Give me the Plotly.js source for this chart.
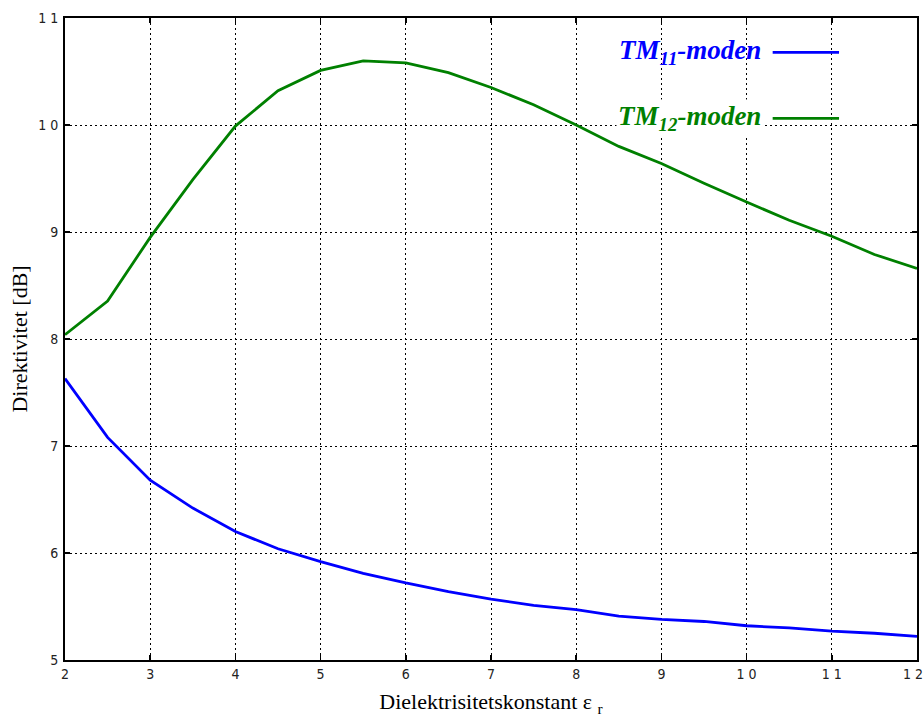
<!DOCTYPE html>
<html>
<head>
<meta charset="utf-8">
<script src="https://cdn.plot.ly/plotly-3.0.1.min.js"></script>
<style>html,body{margin:0;padding:0;background:#fff;}#chart{width:924px;height:717px;}</style>
</head>
<body>
<div id="chart"></div>
<script>
const epsR = [2, 2.5, 3, 3.5, 4, 4.5, 5, 5.5, 6, 6.5, 7, 7.5, 8, 8.5, 9, 9.5, 10, 10.5, 11, 11.5, 12];
const tm11 = [7.63, 7.08, 6.68, 6.42, 6.20, 6.04, 5.92, 5.81, 5.72, 5.64, 5.57, 5.51, 5.47, 5.41, 5.38, 5.36, 5.32, 5.30, 5.27, 5.25, 5.22];
const tm12 = [8.04, 8.355, 8.95, 9.49, 9.99, 10.32, 10.51, 10.60, 10.58, 10.49, 10.35, 10.19, 10.00, 9.80, 9.64, 9.455, 9.28, 9.11, 8.96, 8.79, 8.66];
const xTickVals = [2, 3, 4, 5, 6, 7, 8, 9, 10, 11, 12];
const xTickText = ['2', '3', '4', '5', '6', '7', '8', '9', '1 0', '1 1', '1 2'];
const yTickVals = [5, 6, 7, 8, 9, 10, 11];
const yTickText = ['5', '6', '7', '8', '9', '1 0', '1 1'];
const seriesNames = ['TM<sub>11</sub>-moden', 'TM<sub>12</sub>-moden'];
const seriesColors = ['#0000ff', '#008000'];

const traces = [
  {x: epsR, y: tm11, type: 'scatter', mode: 'lines', line: {color: seriesColors[0], width: 2.8}, name: 'TM11', showlegend: false},
  {x: epsR, y: tm12, type: 'scatter', mode: 'lines', line: {color: seriesColors[1], width: 2.8}, name: 'TM12', showlegend: false}
];

const tickFont = {family: '"Liberation Sans Narrow", "DejaVu Sans Condensed", Arial, sans-serif', size: 14, color: '#222'};
const axisCommon = {
  showline: true, linecolor: '#000', linewidth: 2, mirror: 'ticks',
  ticks: 'inside', ticklen: 5, tickcolor: '#000', tickwidth: 1.5,
  showgrid: true, gridcolor: '#000', gridwidth: 1, griddash: '2px,3px',
  zeroline: false, tickfont: tickFont, tickmode: 'array', automargin: false,
  ticklabeloverflow: 'allow'
};

const layout = {
  width: 924, height: 717,
  margin: {l: 65, r: 7, t: 18, b: 57},
  paper_bgcolor: '#fff', plot_bgcolor: '#fff',
  showlegend: false,
  xaxis: Object.assign({}, axisCommon, {
    range: [2, 12], tickvals: xTickVals, ticktext: xTickText, ticklabelstandoff: 0,
    title: {text: 'Dielektrisitetskonstant ε <sub>r</sub>', standoff: 15,
      font: {family: '"Liberation Serif", "Times New Roman", serif', size: 22, color: '#000'}}
  }),
  yaxis: Object.assign({}, axisCommon, {
    range: [5, 11], tickvals: yTickVals, ticktext: yTickText, ticklabelstandoff: 2,
    title: {text: 'Direktivitet [dB]', standoff: 4,
      font: {family: '"Liberation Serif", "Times New Roman", serif', size: 22, color: '#000'}}
  }),
  annotations: [
    {xref: 'paper', yref: 'paper', x: 0.819, y: 0.9466, xanchor: 'right', yanchor: 'middle', showarrow: false,
     text: '<b><i>' + seriesNames[0] + '</i></b>',
     font: {family: '"Liberation Serif", "Times New Roman", serif', size: 27, color: seriesColors[0]}},
    {xref: 'paper', yref: 'paper', x: 0.819, y: 0.845, xanchor: 'right', yanchor: 'middle', showarrow: false,
     text: '<b><i>' + seriesNames[1] + '</i></b>', bgcolor: '#fff',
     font: {family: '"Liberation Serif", "Times New Roman", serif', size: 27, color: seriesColors[1]}}
  ],
  shapes: [
    {type: 'line', xref: 'paper', yref: 'paper', x0: 0.8306, x1: 0.9085, y0: 0.9466, y1: 0.9466, line: {color: seriesColors[0], width: 2.8}},
    {type: 'line', xref: 'paper', yref: 'paper', x0: 0.8306, x1: 0.9085, y0: 0.8438, y1: 0.8438, line: {color: seriesColors[1], width: 2.8}}
  ]
};

Plotly.newPlot('chart', traces, layout, {staticPlot: true, displayModeBar: false}).then(function () {
  // keep the last x tick label ("1 2") inside the page edge, as in the reference
  const labels = document.querySelectorAll('.xtick text');
  if (labels.length) {
    const last = labels[labels.length - 1];
    last.setAttribute('text-anchor', 'end');
    last.setAttribute('x', '6');
  }
});
</script>
</body>
</html>
